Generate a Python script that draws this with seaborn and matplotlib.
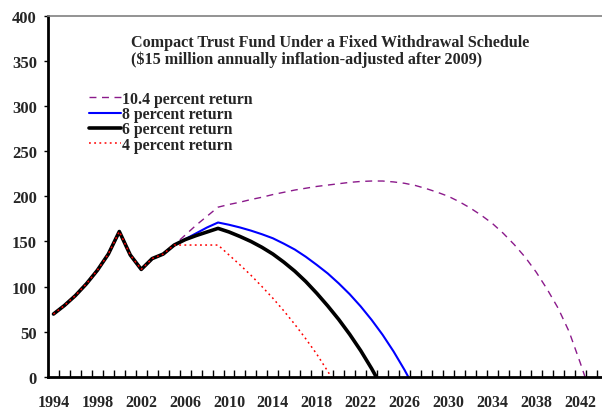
import matplotlib
matplotlib.use("Agg")
import matplotlib.pyplot as plt
import seaborn as sns
import numpy as np
from matplotlib.ticker import FixedLocator

sns.set_theme(style="white")
plt.rcParams['font.family'] = ['Liberation Serif', 'DejaVu Serif']
plt.rcParams['font.weight'] = 'bold'

# ---- data ----
common_years = list(range(1994, 2006))
common_vals = [69.5, 79, 90, 103, 118, 136, 161, 135, 119, 131, 136, 146]

r104_vals = [157, 168, 178, 188, 191, 193.5, 196.5, 199, 202, 204.5, 207, 209,
             211, 212.5, 214, 215.5, 216.5, 217, 217, 216, 214.5, 212, 208.5,
             204.5, 200, 194, 187, 179, 170, 159, 146.5, 132.5, 116, 97, 76,
             50, 16, -20]  # 2006 ..
r8_vals = [152.5, 159, 165.5, 171, 168.5, 165.5, 162, 158, 153.5, 147.5, 141,
           133, 124, 114.5, 103.5, 91.5, 78, 63, 46.5, 28, 7.5, -15]  # 2006 ..
r6_vals = [152, 156.5, 160.5, 164.5, 160.5, 155.5, 150, 143.5, 136, 127, 117,
           105.5, 92.5, 78.5, 63.5, 47, 29, 9, -13]  # 2006 ..
r4_vals = [146, 146, 146, 146, 135, 124, 112.5, 100, 87, 73, 58, 42, 25, 6, -14]  # 2006 ..

labels = ["10.4 percent return", "8 percent return", "6 percent return", "4 percent return"]
series = [r104_vals, r8_vals, r6_vals, r4_vals]
colors = ["#8B1A8B", "#0000FF", "#000000", "#FF0000"]
styles = [(0, (5, 4)), "-", "-", (0, (1.2, 2.2))]
widths = [1.0, 1.5, 2.6, 1.1]

tick_years = list(range(1994, 2043, 4))

# ---- figure ----
fig = plt.figure(figsize=(6.02, 4.10), dpi=100)
ax = fig.add_axes([48/602, 1-377.7/410, 1-48/602, (377.7-17)/410])

for vals, lab, col, ls, lw in zip(series, labels, colors, styles, widths):
    yrs = common_years + list(range(2006, 2006 + len(vals)))
    y = common_vals + vals
    sns.lineplot(x=yrs, y=y, ax=ax, color=col, linestyle=ls, linewidth=lw,
                 label=lab, estimator=None, sort=False)

ax.set_xlim(1993.5, 2044)
ax.set_ylim(0, 400)
ax.set_xlabel("")
ax.set_ylabel("")

ax.set_yticks(range(0, 401, 50))
ax.set_yticklabels([str(v) for v in range(0, 401, 50)], fontsize=12, fontweight='bold')
ax.tick_params(axis='y', which='major', direction='out', length=3, width=1,
               color='black', pad=5, left=True)

ax.set_xticks(tick_years)
ax.set_xticklabels([str(v) for v in tick_years], fontsize=11.5, fontweight='bold')
ax.xaxis.set_minor_locator(FixedLocator(np.arange(1994.5, 2044, 1.0)))
ax.tick_params(axis='x', which='major', length=0, pad=12.5)
ax.tick_params(axis='x', which='minor', direction='in', length=5, width=1,
               color='black', bottom=True)

for side in ['left', 'bottom']:
    ax.spines[side].set_color('black')
    ax.spines[side].set_linewidth(2)
ax.spines['top'].set_color('#808080')
ax.spines['top'].set_linewidth(1.2)
ax.spines['right'].set_visible(False)
ax.grid(False)

leg = ax.legend(loc='upper left', bbox_to_anchor=((89-48)/554, (377.7-92)/360.7),
                frameon=False, fontsize=11.4, handlelength=2.0, handletextpad=0.1,
                labelspacing=-0.05, borderpad=0, borderaxespad=0)
for t in leg.get_texts():
    t.set_fontweight('bold')

fig.text(131/602, 1-47/410, "Compact Trust Fund Under a Fixed Withdrawal Schedule",
         fontsize=11.6, fontweight='bold', ha='left', va='baseline')
fig.text(131/602, 1-64/410, "($15 million annually inflation-adjusted after 2009)",
         fontsize=11.6, fontweight='bold', ha='left', va='baseline')

fig.savefig("out.png", dpi=100)
